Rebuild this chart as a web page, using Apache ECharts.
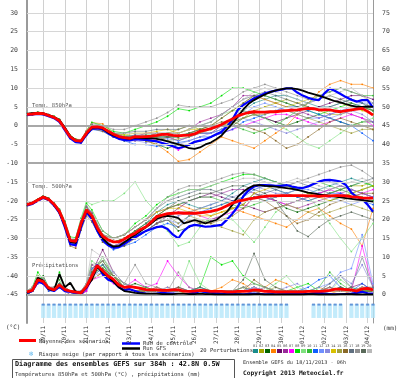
<!DOCTYPE html>
<html><head><meta charset="utf-8">
<script src="https://cdn.jsdelivr.net/npm/echarts/dist/echarts.min.js"></script>
<style>html,body{margin:0;padding:0;background:#fff}#c{width:400px;height:378px}</style>
</head><body><div id="c"></div>
<script>
// time in days since 19/11 00h (run start 18/11 06h = -0.75)
const tMain = [-0.75,-0.5,-0.25,0,0.25,0.5,0.75,1,1.25,1.5,1.75,2,2.25,2.5,2.75,3,3.25,3.5,3.75,4,4.25,4.5,4.75,5,5.25,5.5,5.75,6,6.25,6.5,6.75,7,7.25,7.5,7.75,8,8.25,8.5,8.75,9,9.25,9.5,9.75,10,10.25,10.5,10.75,11,11.25,11.5,11.75,12,12.25,12.5,12.75,13,13.25,13.5,13.75,14,14.25,14.5,14.75,15,15.25];
const tPert = [-0.75,-0.5,-0.25,0,0.25,0.5,0.75,1,1.25,1.5,1.75,2,2.25,2.75,3.25,3.75,4.25,4.75,5.25,5.75,6.25,6.75,7.25,7.75,8.25,8.75,9.25,9.75,10.25,10.75,11.25,11.75,12.25,12.75,13.25,13.75,14.25,14.75,15.25];
const dateLabels = ['19/11','20/11','21/11','22/11','23/11','24/11','25/11','26/11','27/11','28/11','29/11','30/11','01/12','02/12','03/12','04/12'];
const leftTicks = [30,25,20,15,10,5,0,-5,-10,-15,-20,-25,-30,-35,-40,-45];
const rightTicks = [75,70,65,60,55,50,45,40,35,30,25,20,15,10,5,0];

// 850 hPa
const mean850 = [3.0,3.1,3.3,3.2,2.7,2.2,1.3,-0.8,-3.0,-4.0,-4.1,-2.0,-0.4,-0.3,-0.6,-1.5,-2.3,-2.9,-3.2,-3.4,-2.9,-3.0,-2.9,-2.8,-2.6,-2.3,-2.3,-2.6,-2.7,-2.6,-2.5,-2.2,-1.5,-1.2,-0.8,-0.3,0.3,1.1,1.8,2.6,3.1,3.5,3.7,3.6,3.6,3.7,3.7,3.9,4.0,4.1,4.2,4.4,4.6,4.5,4.2,4.2,4.2,3.9,3.7,4.0,4.2,4.4,4.6,3.8,2.8];
const ctrl850 = [2.8,3.0,3.1,3.0,2.5,2.0,1.0,-1.2,-3.4,-4.4,-4.5,-2.4,-0.8,-0.7,-1.0,-2.0,-2.8,-3.5,-3.8,-3.9,-3.6,-3.7,-3.8,-4.0,-4.2,-4.6,-5.0,-5.5,-6.0,-5.6,-5.1,-4.3,-4.0,-3.6,-3.0,-2.3,-1.6,-0.2,1.6,4.2,5.5,6.4,7.3,7.9,8.6,9.0,9.3,9.6,9.9,9.9,8.8,8.0,7.4,7.0,6.8,8.6,9.9,9.2,8.4,7.6,6.9,6.4,6.8,6.8,4.8];
const gfs850 = [3.1,3.3,3.4,3.3,2.8,2.3,1.5,-0.5,-2.8,-3.9,-4.2,-2.2,-0.6,-0.4,-0.8,-1.8,-2.6,-3.0,-3.3,-3.5,-3.2,-3.3,-3.4,-3.3,-3.5,-3.8,-4.2,-4.6,-5.0,-5.4,-6.0,-6.2,-5.8,-5.0,-4.5,-3.6,-2.6,-1.0,0.6,2.4,4.3,5.8,6.8,7.6,8.3,8.9,9.4,9.7,9.9,9.9,9.7,9.3,8.8,8.4,8.0,7.5,7.0,6.5,6.2,5.7,5.3,5.0,5.0,5.1,5.0];
const p850_01 = [3.2,3.3,3.5,3.3,2.9,2.4,1.6,-0.5,-2.8,-3.8,-4.0,-1.6,0.2,-1,-2.5,-3,-3,-3,-3,-3,-3,-2,-2,-2,-1,1,4,6,7,8,8,7,6,5,5,6,7,6,4];
const p850_02 = [2.9,3.0,3.2,3.1,2.6,2.0,1.0,-1.2,-3.4,-4.3,-4.4,-2.4,-0.8,-0.5,-2,-3,-3.5,-4,-3,-2,-1,0,-1,-1,0,1,2,4,5,6,7,6,5,4,3,3,4,5,4];
const p850_03 = [3.1,3.2,3.4,3.3,2.8,2.3,1.4,-0.6,-2.9,-3.9,-4.2,-2.2,-0.5,-1,-2.5,-4,-3,-4,-5,-6,-5,-5,-4,-3,-2,0,2,3,2,1,0,1,2,3,2,1,0,1,1];
const p850_04 = [3.0,3.0,3.2,3.0,2.5,2.1,1.5,-0.3,-2.6,-3.6,-3.7,-1.3,0.8,0.5,-2,-3,-3,-4,-5,-7,-9.5,-9,-7,-5,-3,-4,-5,-6,-4,-2,0,3,6,9,11,12,11,11,10];
const p850_05 = [2.8,2.9,3.1,3.0,2.6,2.0,1.1,-1.0,-3.3,-4.3,-4.6,-2.6,-1.0,-1,-3,-4,-4,-3,-2,-3,-4,-3,-2,-2,0,2,4,3,2,1,2,3,4,5,6,7,8,8,7];
const p850_06 = [3.1,3.2,3.4,3.4,2.9,2.4,1.5,-0.7,-3.0,-4.0,-4.0,-1.8,-0.2,-0.5,-2,-3,-3,-2,-2,-2,-2,-1,1,2,3,5,8,8,7,6,5,4,3,2,3,4,3,2,1];
const p850_07 = [3.0,3.1,3.2,3.1,2.6,2.1,1.2,-0.9,-3.2,-4.2,-4.3,-2.3,-0.6,-1,-3,-3.5,-3,-3,-4,-5,-6.5,-5,-4,-3,-2,-1,0,1,2,3,3,2,1,0,1,2,3,2,0];
const p850_08 = [3.2,3.4,3.6,3.4,2.9,2.5,1.7,-0.4,-2.6,-3.6,-3.8,-1.5,0.9,0,-1.5,-2,-1,0,1,2.5,4.5,4,5,6,8,10,10,9,8,7,6,5,4,3,4,5,6,5,4];
const p850_09 = [2.9,3.0,3.2,3.1,2.7,2.2,1.3,-0.8,-3.1,-4.1,-4.1,-1.9,-0.3,-1,-2.5,-3,-3,-2.5,-2,-2,-2,-1,0,1,3,4,4,3,2,0,-1,-3,-5,-6,-4,-2,0,1,2];
const p850_10 = [3.0,3.1,3.3,3.2,2.7,2.2,1.2,-1.0,-3.1,-4.0,-4.2,-2.1,-0.5,-0.5,-2,-2.5,-3,-4,-3,-3,-3,-2,-1,-1,0,0,-1,-2,-1,0,2,4,6,8,9,10,9,8,8];
const p850_11 = [2.9,3.0,3.2,3.1,2.6,2.1,1.1,-1.1,-3.4,-4.4,-4.5,-2.5,-1.0,-1.5,-3,-4,-5,-5,-5.5,-5,-4.5,-4,-3,-3,-2,-1,1,2,3,4,5,5,4,3,2,1,0,-2,-4];
const p850_12 = [3.1,3.2,3.4,3.2,2.8,2.3,1.4,-0.7,-2.9,-3.9,-4.0,-1.8,-0.3,-1,-2,-3,-2.5,-3,-3,-3.5,-4,-3,-2,-2,-1,1,3,5,6,5,4,3,2,2,3,4,5,6,6];
const p850_13 = [3.0,3.1,3.3,3.2,2.7,2.2,1.2,-0.9,-3.2,-4.2,-4.4,-2.4,-0.7,-1,-3,-3,-4,-4.5,-4,-4,-5,-4,-3,-2,-1,1,2,1,0,-1,-2,-1,0,1,2,3,4,3,1];
const p850_14 = [3.1,3.2,3.3,3.2,2.7,2.3,1.4,-0.6,-2.8,-3.8,-3.9,-1.7,0.0,-0.5,-2,-2.5,-2,-2,-1.5,-1,-2,-1,-1,0,2,4,6,8,7,6,5,6,7,8,7,6,5,4,3];
const p850_15 = [2.9,3.0,3.2,3.1,2.6,2.1,1.2,-0.9,-3.1,-4.1,-4.3,-2.2,-0.6,-1,-2.5,-3.5,-3,-3,-3,-4,-3.5,-3,-2,-1,0,1,2,3,3,4,4,3,2,1,0,-1,-2,-1,-1];
const p850_16 = [3.0,3.1,3.3,3.2,2.8,2.2,1.3,-0.8,-3.0,-4.1,-4.3,-2.3,-0.8,-1.5,-3,-3,-3,-4,-4,-3,-2.5,-2,-1,0,1,1,0,-1,-2,-4,-6,-5,-3,-1,1,2,1,0,-1];
const p850_17 = [3.2,3.3,3.5,3.4,2.9,2.4,1.5,-0.5,-2.7,-3.7,-3.8,-1.6,0.2,-0.5,-2,-2,-1.5,-1.5,-1,-1,-1,0,0,1,3,5,7,8,9,8,7,6,5,4,5,6,7,6,5];
const p850_18 = [3.1,3.3,3.4,3.3,2.8,2.3,1.6,-0.4,-2.7,-3.7,-3.7,-1.4,0.5,0,-1,-1,0,1,2,3.5,5.5,5,5,5,6,7,9,10,11,10,9,8,7,8,9,10,9,8,6];
const p850_19 = [3.0,3.1,3.3,3.2,2.7,2.2,1.3,-0.8,-3.0,-4.0,-4.1,-2.0,-0.4,-1,-2.5,-3,-2.5,-2.5,-3,-3,-3,-2,-1,0,2,4,6,8,8,7,6,5,6,7,8,7,6,5,4];
const p850_20 = [3.0,3.2,3.3,3.2,2.8,2.3,1.4,-0.7,-2.9,-3.9,-4.0,-1.9,-0.3,-0.5,-2,-2,-2,-2,-2,-2,-2,-1,0,1,3,5,7,9,10,9,8,7,6,7,8,9,10,8,5];

// 500 hPa
const mean500 = [-21.0,-20.6,-19.8,-19.0,-19.6,-20.9,-22.8,-26.2,-30.6,-30.8,-26.0,-22.4,-24.0,-27.2,-29.4,-30.4,-30.9,-30.9,-30.2,-29.3,-28.6,-27.6,-26.9,-25.6,-24.2,-23.8,-23.4,-23.3,-23.2,-23.3,-23.3,-23.3,-23.2,-23.0,-22.8,-22.5,-22.0,-21.3,-20.6,-20.1,-19.8,-19.5,-19.3,-19.0,-18.8,-18.7,-18.7,-18.6,-18.6,-18.6,-18.6,-18.6,-18.7,-18.7,-18.8,-18.7,-18.7,-18.6,-18.6,-18.7,-18.9,-19.0,-19.2,-19.3,-19.3];
const ctrl500 = [-21.2,-20.8,-20.0,-19.2,-19.8,-21.2,-23.2,-27.0,-31.5,-31.8,-27.0,-23.0,-24.8,-28.0,-30.5,-31.8,-32.5,-32.3,-31.5,-30.5,-29.6,-28.8,-28.0,-27.5,-27.0,-26.8,-27.5,-29.0,-30.0,-28.0,-26.8,-26.4,-26.6,-26.9,-26.8,-26.6,-26.4,-25.0,-23.4,-21.5,-18.8,-17.2,-16.2,-15.8,-15.8,-15.9,-16.0,-16.0,-15.8,-16.2,-16.5,-16.6,-16.2,-15.5,-14.9,-14.5,-14.4,-14.6,-14.9,-15.8,-17.8,-19.0,-19.6,-21.0,-22.9];
const gfs500 = [-21.0,-20.5,-19.7,-18.9,-19.5,-21.0,-23.0,-26.5,-30.9,-31.2,-26.4,-22.6,-24.3,-27.5,-30.0,-31.4,-32.2,-32.0,-31.0,-30.0,-29.0,-28.0,-27.0,-26.0,-24.8,-24.2,-24.0,-24.2,-24.6,-26.0,-25.6,-25.1,-25.5,-26.0,-25.5,-25.1,-24.0,-22.9,-21.0,-18.9,-17.6,-16.6,-15.9,-15.8,-16.0,-16.1,-16.2,-16.4,-16.6,-16.8,-17.1,-17.4,-17.8,-18.0,-18.3,-18.5,-18.7,-18.9,-19.1,-19.3,-19.5,-19.7,-19.8,-20.0,-20.2];
const p500_01 = [-20.8,-20.4,-19.6,-18.8,-19.4,-20.7,-22.5,-25.6,-30.0,-30.2,-25.4,-21.8,-23.4,-29,-31,-30,-28,-26,-23,-21,-20,-21,-22,-21,-20,-18,-16,-15,-14,-15,-16,-17,-18,-17,-16,-15,-14,-15,-16];
const p500_02 = [-21.2,-20.8,-20.0,-19.3,-19.9,-21.2,-23.2,-26.8,-31.2,-31.5,-26.8,-23.0,-24.6,-30,-31,-30,-29,-27,-25,-24,-23,-23,-22,-22,-21,-20,-19,-16,-16,-17,-18,-19,-20,-19,-18,-17,-16,-16,-15];
const p500_03 = [-21.0,-20.5,-19.7,-18.9,-19.5,-20.8,-22.6,-26.0,-30.4,-30.5,-25.7,-22.2,-23.8,-30,-32,-31,-29,-28,-26,-25,-28,-27,-26,-25,-24,-22,-21,-18,-19,-20,-22,-23,-22,-21,-20,-19,-18,-17,-16];
const p500_04 = [-21.1,-20.7,-19.9,-19.1,-19.8,-21.1,-23.0,-26.6,-31.0,-31.4,-26.5,-22.8,-24.3,-29,-31,-30,-28,-27,-24,-22,-21,-22,-23,-24,-23,-22,-23,-24,-25,-26,-27,-25,-23,-22,-24,-26,-27.5,-32,-22];
const p500_05 = [-20.9,-20.5,-19.6,-18.7,-19.3,-20.6,-22.4,-25.8,-30.1,-30.3,-25.5,-21.6,-23.2,-30,-31,-31,-30,-28,-26,-24,-22,-20,-19,-18,-19,-20,-21,-22,-23,-22,-21,-20,-19,-18,-17,-16,-17,-18,-19];
const p500_06 = [-21.0,-20.6,-19.8,-19.0,-19.6,-20.9,-22.9,-26.4,-30.8,-31.0,-26.2,-22.3,-24.1,-29,-30,-29,-27,-25,-23,-22,-21,-20,-19,-19,-18,-17,-17,-18,-19,-20,-21,-22,-21,-20,-19,-18,-17,-18,-19];
const p500_07 = [-21.2,-20.8,-20.1,-19.3,-19.9,-21.3,-23.3,-27.0,-31.6,-32.0,-27.2,-23.2,-24.8,-30,-32,-31,-29,-27,-25,-24,-23,-23,-24,-25,-24,-23,-22,-19,-19,-20,-21,-20,-19,-18,-17,-18,-19,-18,-17];
const p500_08 = [-20.8,-20.3,-19.5,-18.7,-19.3,-20.5,-22.2,-25.4,-29.6,-29.8,-24.8,-20.6,-22.4,-28,-30,-29,-26,-24,-21,-19,-18,-17,-17,-16,-15,-14,-13,-13,-14,-15,-16,-17,-18,-19,-18,-17,-16,-15,-16];
const p500_09 = [-20.9,-20.4,-19.6,-18.8,-19.4,-20.7,-22.5,-25.9,-30.2,-30.0,-24.5,-20.2,-21.0,-20,-20,-18,-15,-20,-23,-28,-32,-31,-27,-24,-22,-25,-28,-31,-27,-23,-21,-20,-19,-22,-26,-30,-33.5,-30,-26];
const p500_10 = [-21.0,-20.6,-19.8,-19.0,-19.6,-21.0,-22.9,-26.3,-30.7,-30.9,-26.1,-22.5,-24.2,-30,-31,-30,-28,-26,-24,-22,-21,-20,-19,-19,-20,-21,-22,-21,-20,-19,-18,-17,-16,-15,-16,-17,-18,-19,-20];
const p500_11 = [-21.2,-20.8,-20.0,-19.2,-19.9,-21.3,-23.2,-26.9,-31.5,-31.9,-27.0,-23.3,-25.0,-31,-33,-32,-31,-29,-27,-26,-27,-24,-23,-22,-21,-20,-19,-17,-16,-17,-18,-19,-20,-19,-18,-18,-19,-20,-21];
const p500_12 = [-21.1,-20.7,-19.9,-19.1,-19.7,-21.0,-22.9,-26.4,-30.9,-31.2,-26.4,-22.7,-24.4,-30,-32,-31,-29,-28,-26,-25,-26,-24,-23,-23,-22,-21,-20,-19,-20,-19,-18,-17,-17,-18,-19,-20,-21,-20,-19];
const p500_13 = [-21.0,-20.6,-19.8,-19.0,-19.6,-21.0,-23.0,-26.6,-31.2,-31.6,-27.0,-23.5,-25.2,-31,-32,-31,-30,-28,-26,-25,-24,-23,-22,-21,-20,-19,-18,-16,-17,-18,-18,-17,-16,-15,-15,-16,-17,-18,-19];
const p500_14 = [-20.9,-20.5,-19.7,-18.9,-19.5,-20.8,-22.6,-25.9,-30.3,-30.4,-25.5,-21.9,-23.6,-29,-30,-29,-27,-25,-23,-22,-22,-23,-24,-24,-23,-22,-21,-18,-17,-16,-16,-17,-18,-19,-20,-19,-18,-17,-16];
const p500_15 = [-21.1,-20.7,-19.9,-19.1,-19.7,-21.0,-22.9,-26.4,-30.8,-31.1,-26.3,-22.8,-24.5,-30,-31,-30,-29,-27,-25,-24,-26,-24,-25,-26,-27,-28,-29,-25,-23,-22,-21,-22,-23,-24,-23,-22,-21,-22,-23];
const p500_16 = [-21.2,-20.9,-20.1,-19.3,-20.0,-21.4,-23.4,-27.2,-32.0,-32.6,-27.8,-24.0,-25.6,-31,-32,-32,-30,-28,-26,-25,-27,-25,-26,-26,-25,-24,-22,-19,-20,-22,-24,-26,-25,-23,-21,-20,-19,-18,-18];
const p500_17 = [-20.9,-20.5,-19.7,-18.9,-19.5,-20.8,-22.6,-25.9,-30.2,-30.3,-25.4,-21.7,-23.4,-29,-30,-29,-27,-25,-22,-20,-19,-18,-17,-17,-18,-19,-20,-19,-18,-17,-16,-15,-16,-17,-18,-17,-16,-15,-14];
const p500_18 = [-20.8,-20.4,-19.6,-18.8,-19.4,-20.6,-22.4,-25.7,-30.0,-30.1,-25.1,-21.3,-23.0,-28,-30,-29,-27,-25,-22,-19,-17,-16,-16,-15,-14,-13,-12.5,-13,-14,-15,-16,-15,-14,-13,-12,-11,-10.5,-12,-14];
const p500_19 = [-21.0,-20.6,-19.8,-19.0,-19.6,-20.9,-22.8,-26.2,-30.6,-30.8,-26.0,-22.4,-24.0,-29,-31,-30,-28,-26,-24,-22,-20,-19,-18,-18,-17,-16,-16,-17,-18,-20,-24,-28,-29.5,-27,-25,-24,-23,-24,-25];
const p500_20 = [-20.9,-20.5,-19.7,-18.9,-19.5,-20.8,-22.7,-26.1,-30.5,-30.6,-25.8,-22.1,-23.7,-29,-30,-29,-27,-25,-22,-20,-18,-17,-17,-16,-15,-15,-14,-14,-15,-16,-15,-14,-15,-16,-17,-16,-15,-14,-15];

// precipitation (mm)
const meanPcp = [0.8,1.2,4.0,3.5,1.8,1.3,2.6,1.4,1.0,0.7,0.5,2.2,5.0,7.8,6.4,5.0,4.1,2.6,2.0,2.2,2.0,1.7,1.4,1.3,1.3,1.2,1.2,1.3,1.3,1.0,0.9,1.0,1.2,1.1,0.9,0.9,0.9,0.8,0.8,0.9,0.9,1.0,1.3,1.2,0.9,0.9,0.8,0.8,0.8,0.8,0.8,0.8,0.9,0.9,0.9,1.0,1.2,1.5,1.5,1.4,1.3,1.0,1.6,1.7,1.3];
const ctrlPcp = [0.5,1.0,3.5,3.0,1.5,1.0,2.2,1.0,0.8,0.5,0.3,1.8,4.5,8.0,5.5,4.0,3.5,2.0,1.2,1.5,1.0,0.5,0.3,0.2,0.3,0.5,0.4,0.3,0.2,0.2,0.3,0.5,1.0,0.8,0.6,0.4,0.3,0.2,0.2,0.1,0.1,0.2,0.3,0.2,0.1,0.1,0.1,0.1,0.2,0.2,0.3,0.2,0.2,0.4,0.6,0.3,0.2,0.1,0.1,0.2,0.3,0.5,0.8,0.4,0.3];
const gfsPcp = [0.5,1.2,4.5,3.8,1.5,1.2,5.5,2.0,3.2,0.8,0.6,2.0,4.0,7.5,6.0,4.8,3.5,2.0,1.0,0.8,0.5,0.4,0.3,0.3,0.3,0.2,0.2,0.2,0.3,0.3,0.2,0.2,0.3,0.2,0.2,0.1,0.1,0.1,0.1,0.1,0.1,0.1,0.2,0.2,0.1,0.1,0.1,0.1,0.1,0.1,0.1,0.1,0.2,0.2,0.1,0.1,0.1,0.1,0.2,0.2,0.2,0.1,0.1,0.1,0.1];
const pcp_01 = [0,1,5,4,2,1,3,1,1,0,0,2,6,8,4,2,2,1,1,1,2,1,1,0,1,1,0,1,1,0,0,1,1,0,1,2,1,2,1];
const pcp_02 = [1,2,4,3,2,1,2,1,1,1,0,3,5,7,5,3,2,1,2,1,1,0,1,1,0,1,2,1,0,1,1,0,1,1,2,1,1,2,2];
const pcp_03 = [0,1,3,5,2,1,3,2,1,1,0,2,7,9,5,2,3,2,1,1,1,1,2,1,1,0,1,2,1,1,0,1,0,1,1,1,2,1,1];
const pcp_04 = [1,1,4,4,1,2,3,2,1,0,1,2,4,6,4,2,1,1,1,2,1,1,0,1,2,4,3,1,2,4,3,1,1,2,1,0,1,1,1];
const pcp_05 = [0,2,5,3,2,1,2,1,0,1,0,1,6,12,6,3,2,1,1,1,1,1,1,0,1,1,0,1,0,0,1,1,1,1,2,1,2,3,1];
const pcp_06 = [1,1,4,4,2,1,3,1,1,0,1,3,8,6,4,2,1,1,2,1,2,1,1,1,0,1,1,1,1,0,1,1,1,1,1,2,1,2,2];
const pcp_07 = [0,1,3,4,2,2,2,1,1,1,0,1,4,5,3,2,4,2,3,9,5,2,1,1,0,1,1,2,1,0,1,0,1,1,1,1,1,13,2];
const pcp_08 = [1,2,6,4,2,1,6,2,1,1,0,2,5,8,4,2,1,1,1,1,1,1,2,10,8,9,5,3,2,1,1,2,3,1,1,2,1,1,1];
const pcp_09 = [0,1,4,3,2,1,3,2,1,0,1,3,9,7,5,2,2,1,1,1,1,9,3,1,1,1,2,1,1,3,5,2,1,1,1,4,2,1,2];
const pcp_10 = [1,1,5,4,2,2,4,1,1,1,0,2,6,10,5,3,2,2,1,1,1,1,1,1,1,0,1,1,1,1,0,1,1,2,6,3,1,1,1];
const pcp_11 = [0,1,4,3,1,1,2,1,1,0,0,2,5,7,4,2,1,1,1,1,1,1,1,0,1,1,1,2,1,1,1,1,2,4,5,2,1,3,1];
const pcp_12 = [1,2,4,4,2,1,3,2,1,1,1,2,7,8,6,3,2,1,1,2,1,1,2,1,1,1,0,1,2,1,1,1,1,2,3,6,7,16,3];
const pcp_13 = [0,1,3,4,2,1,2,1,1,1,0,2,5,6,4,2,2,1,1,1,1,1,1,1,0,1,1,2,1,1,2,3,1,1,1,5,3,8,2];
const pcp_14 = [1,1,5,3,2,1,2,1,1,1,0,2,6,7,5,2,1,1,1,1,1,1,1,1,1,0,1,1,1,1,1,1,1,1,1,1,1,2,1];
const pcp_15 = [0,2,4,4,2,1,3,1,1,0,1,2,6,9,5,2,1,1,1,1,1,1,1,1,1,1,1,1,1,2,1,1,1,1,1,1,1,1,1];
const pcp_16 = [1,1,4,3,2,1,2,1,1,1,0,2,4,6,4,2,1,1,1,1,2,1,1,1,1,1,1,4,2,1,1,1,1,1,1,2,1,1,1];
const pcp_17 = [0,1,4,3,2,1,2,1,1,1,0,2,5,8,5,2,2,1,1,1,1,1,1,1,1,1,2,1,1,1,1,1,1,1,3,5,2,10,2];
const pcp_18 = [1,2,4,4,2,2,3,2,1,1,1,3,8,9,5,3,8,3,2,1,6,2,1,1,1,1,2,3,2,1,1,1,1,1,2,1,1,2,1];
const pcp_19 = [0,1,4,3,2,1,3,1,1,0,0,2,6,7,5,2,2,1,1,1,1,1,2,1,1,1,4,11,4,2,1,1,1,1,1,2,1,1,1];
const pcp_20 = [1,2,5,4,2,1,2,1,1,1,0,3,12,10,6,3,2,1,1,1,1,1,1,1,1,1,1,2,1,1,1,1,1,1,1,1,1,2,1];

// snow risk (%) per 6h step (0 = none)
const snowPct = [0,0,0,5,5,5,10,10,10,10,15,15,15,15,10,10,10,10,10,10,10,10,10,10,10,10,10,10,10,10,10,10,10,10,10,10,10,10,10,10,10,10,10,10,10,10,10,10,5,0,0,0,0,5,5,5,5,5,5,0,5,5,5,5,5];

const pertNames = ['01','02','03','04','05','06','07','08','09','10','11','12','13','14','15','16','17','18','19','20'];
const pertColors = ['#1a8c8c','#a6a600','#006400','#ff8000','#6a0a6a','#9a2a9a','#ff00ff','#00e000','#7fe07f','#33bb33','#1060ff','#6f8fff','#8888dd','#d8c000','#a0a040','#8a6a2a','#607080','#909090','#5a6a5a','#b8b8b8'];

const p850 = [p850_01,p850_02,p850_03,p850_04,p850_05,p850_06,p850_07,p850_08,p850_09,p850_10,p850_11,p850_12,p850_13,p850_14,p850_15,p850_16,p850_17,p850_18,p850_19,p850_20];
const p500 = [p500_01,p500_02,p500_03,p500_04,p500_05,p500_06,p500_07,p500_08,p500_09,p500_10,p500_11,p500_12,p500_13,p500_14,p500_15,p500_16,p500_17,p500_18,p500_19,p500_20];
const pPcp = [pcp_01,pcp_02,pcp_03,pcp_04,pcp_05,pcp_06,pcp_07,pcp_08,pcp_09,pcp_10,pcp_11,pcp_12,pcp_13,pcp_14,pcp_15,pcp_16,pcp_17,pcp_18,pcp_19,pcp_20];

const pair = (t, v) => t.map((x, i) => [x, v[i]]);
const FONT = 'DejaVu Sans Mono';
const series = [];

// horizontal grid lines
series.push({
  type: 'line', data: [], silent: true, z: 1,
  markLine: {
    silent: true, symbol: 'none', label: {show: false}, animation: false,
    data: leftTicks.map(v => ({
      yAxis: v,
      lineStyle: (v === 0 || v === -45 || v === -10) ? {color: '#a8a8a8', width: 2, type: 'solid'}
               : {color: '#d6d6d6', width: 1, type: 'solid'}
    }))
  }
});

function addPerts(list, yIdx) {
  list.forEach((arr, i) => {
    series.push({
      type: 'line', yAxisIndex: yIdx, data: pair(tPert, arr), z: 2,
      symbol: 'circle', symbolSize: 1.8, showSymbol: true,
      lineStyle: {width: 0.8, color: pertColors[i], opacity: 0.75},
      itemStyle: {color: pertColors[i]}, silent: true, animation: false
    });
  });
}
addPerts(p850, 0); addPerts(p500, 0); addPerts(pPcp, 1);

function addMain(v, yIdx, color, w, z) {
  series.push({type: 'line', yAxisIndex: yIdx, data: pair(tMain, v), z: z,
    symbol: 'none', lineStyle: {width: w, color: color}, silent: true, animation: false});
}
addMain(ctrl850, 0, '#0000ff', 2.2, 4); addMain(gfs850, 0, '#000000', 1.8, 5); addMain(mean850, 0, '#ff0000', 2.8, 6);
addMain(ctrl500, 0, '#0000ff', 2.2, 4); addMain(gfs500, 0, '#000000', 1.8, 5); addMain(mean500, 0, '#ff0000', 2.8, 6);
addMain(ctrlPcp, 1, '#0000ff', 2.2, 4); addMain(gfsPcp, 1, '#000000', 1.8, 5); addMain(meanPcp, 1, '#ff0000', 2.8, 6);

series.push({
  type: 'scatter', yAxisIndex: 0, z: 3, silent: true, animation: false,
  data: tMain.map((t, i) => snowPct[i] > 0 ? [t, -49.3] : null).filter(d => d),
  symbol: 'rect', symbolSize: [4.2, 14], itemStyle: {color: '#b4e6fa'}
});
series.push({
  type: 'scatter', yAxisIndex: 0, z: 3, silent: true, animation: false,
  data: tMain.map((t, i) => snowPct[i] > 0 ? [t, -47.6] : null).filter(d => d),
  symbol: 'rect', symbolSize: [3, 2], itemStyle: {color: '#4a7fd0'}
});

const graphics = [];
const T = (x, y, s, size, opts) => graphics.push({type: 'text', left: x, top: y, silent: true,
  style: Object.assign({text: s, font: (opts && opts.bold ? 'bold ' : '') + size + 'px "' + FONT + '"', fill: '#333'}, opts && opts.style)});
T(32, 103, 'Temp. 850hPa', 5.5, {style: {fill: '#555'}});
T(32, 184, 'Temp. 500hPa', 5.5, {style: {fill: '#555'}});
T(32, 263, 'Précipitations', 5.5, {style: {fill: '#555'}});
T(6, 324, '(°C)', 6);
T(383, 325, '(mm)', 6);
// legend
graphics.push({type: 'line', shape: {x1: 19, y1: 340.5, x2: 36, y2: 340.5}, style: {stroke: '#ff0000', lineWidth: 3}, silent: true});
T(39, 339, 'Moyenne des scénarios', 5.5);
graphics.push({type: 'line', shape: {x1: 122, y1: 343.5, x2: 140, y2: 343.5}, style: {stroke: '#0000ff', lineWidth: 2.5}, silent: true});
T(143, 341, 'Run de contrôle', 5.5);
graphics.push({type: 'line', shape: {x1: 122, y1: 348.5, x2: 140, y2: 348.5}, style: {stroke: '#000000', lineWidth: 2.5}, silent: true});
T(143, 346, 'Run GFS', 5.5);
T(29, 351, '❄', 7, {style: {fill: '#66bbee'}});
T(39, 352, 'Risque neige (par rapport à tous les scénarios)', 5.5);
graphics.push({type: 'rect', shape: {x: 12.5, y: 359.5, width: 222, height: 20}, style: {fill: '#fff', stroke: '#555', lineWidth: 1}, silent: true});
T(15, 361, 'Diagramme des ensembles GEFS sur 384h : 42.8N 0.5W', 6.8, {bold: true, style: {fill: '#111'}});
T(15, 372, 'Températures 850hPa et 500hPa (°C) , précipitations (mm)', 5.5);
T(200, 348, '20 Perturbations', 5.5);
pertNames.forEach((n, i) => {
  T(253 + i * 6, 344, n, 3.6, {style: {fill: '#444'}});
  graphics.push({type: 'rect', shape: {x: 253 + i * 6, y: 349, width: 5, height: 4}, style: {fill: pertColors[i]}, silent: true});
});
T(243, 360, 'Ensemble GEFS du 18/11/2013 - 06h', 5.2);
T(243, 370, 'Copyright 2013 Meteociel.fr', 6.2, {bold: true, style: {fill: '#111'}});

const chart = echarts.init(document.getElementById('c'), null, {renderer: 'canvas'});
chart.setOption({
  animation: false,
  backgroundColor: '#fff',
  grid: {left: 27, right: 27, top: 0, bottom: 55, containLabel: false},
  xAxis: {
    type: 'value', min: -0.75, max: 15.25, splitNumber: 16, minInterval: 1, maxInterval: 1,
    axisLine: {show: false, onZero: false}, axisTick: {show: false},
    splitLine: {show: true, lineStyle: {color: '#d0d0d0', width: 1}},
    axisLabel: {rotate: 90, margin: 3, fontSize: 6, fontFamily: FONT, color: '#333',
      showMinLabel: false, showMaxLabel: false,
      formatter: v => (Number.isInteger(v) && v >= 0 && v < dateLabels.length) ? dateLabels[v] : ''}
  },
  yAxis: [
    {type: 'value', min: -52.5, max: 33.43, minInterval: 5, maxInterval: 5, position: 'left',
     axisLine: {show: true, onZero: false, lineStyle: {color: '#9a9a9a', width: 2}}, axisTick: {show: false}, splitLine: {show: false},
     axisLabel: {fontSize: 6.5, fontFamily: FONT, color: '#444', margin: 9, showMinLabel: false, showMaxLabel: false,
       formatter: v => leftTicks.indexOf(v) >= 0 ? String(v) : ''}},
    {type: 'value', min: -7.5, max: 78.43, minInterval: 5, maxInterval: 5, position: 'right',
     axisLine: {show: true, onZero: false, lineStyle: {color: '#9a9a9a', width: 1}}, axisTick: {show: false}, splitLine: {show: false},
     axisLabel: {fontSize: 6.5, fontFamily: FONT, color: '#444', margin: 9, showMinLabel: false, showMaxLabel: false,
       formatter: v => rightTicks.indexOf(v) >= 0 ? String(v) : ''}}
  ],
  series: series,
  graphic: graphics
});
</script></body></html>
